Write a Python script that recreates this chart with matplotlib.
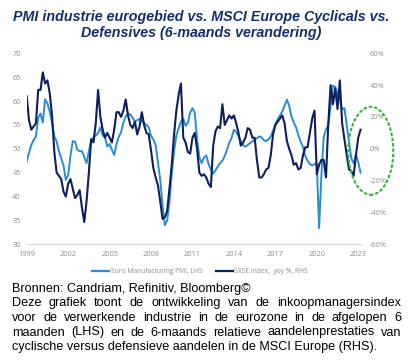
import numpy as np
import matplotlib
matplotlib.use('Agg')
import matplotlib.pyplot as plt
from matplotlib.lines import Line2D
from matplotlib.patches import Ellipse

W, H = 412, 364

title = 'PMI industrie eurogebied vs. MSCI Europe Cyclicals vs.\nDefensives (6-maands verandering)'

# Euro Manufacturing PMI (LHS), one value every 2 months from Jan 1999
pmi = [47.3, 49.2, 50.8, 51.8, 52.6, 56.5,
       57.4, 55.5, 60.4, 59.5, 57.8, 55.5,
       52.6, 51.5, 49.5, 48.0, 46.5, 43.5,
       44.5, 48.5, 51.6, 51.5, 49.8, 49.5,
       49.5, 48.3, 47.0, 49.5, 51.8, 52.4,
       52.8, 53.3, 54.5, 52.8, 52.4, 50.5,
       51.0, 49.8, 48.7, 51.0, 52.5, 53.5,
       55.5, 56.8, 57.4, 57.2, 56.5, 55.7,
       56.0, 56.2, 55.8, 55.3, 55.0, 54.5,
       52.7, 52.0, 50.8, 47.2, 43.5, 38.2,
       34.0, 35.0, 38.9, 44.7, 49.5, 52.8,
       54.3, 55.7, 56.3, 54.8, 55.5, 57.6,
       58.5, 57.5, 52.0, 48.2, 47.0, 48.2,
       48.6, 46.8, 45.6, 44.8, 45.5, 46.3,
       47.0, 47.5, 48.5, 49.8, 51.3, 52.3,
       54.0, 53.5, 52.6, 51.6, 50.8, 50.4,
       50.8, 51.2, 51.5, 52.0, 52.2, 52.6,
       52.4, 51.8, 51.6, 52.0, 52.6, 53.8,
       55.2, 56.2, 57.0, 57.8, 59.0, 60.3,
       59.0, 56.8, 55.5, 54.5, 52.8, 51.5,
       50.4, 48.5, 47.5, 46.8, 46.5, 46.8,
       47.0, 33.4, 44.5, 52.5, 54.0, 55.0,
       59.0, 63.2, 63.0, 61.5, 60.3, 58.2,
       58.5, 55.0, 51.5, 48.0, 46.9, 48.8,
       47.2, 45.0]

# SXSE index, yoy % (RHS), same dates
sxse = [33, 18, 12, 14, 16, 37,
        37, 48, 41, 43, 35, 21,
        -2, -15, -17, -19, -27, -30,
        -22, -19, -25, -31, -29, -26,
        -37, -46, -33, -15, 6, 4,
        16, 37, 20, 12, 7, 10,
        7, 4, 12, 23, 23, 20,
        24, 31, 21, 15, 13, 17,
        9, 14, 23, 15, 10, 9,
        -1, -12, -18, -23, -33, -44,
        -43, -39, -25, -10, 9, 24,
        34, 41, 7, 4, -2, -3,
        7, 10, 0, -15, -17, -16,
        -18, -22, -24, 2, 11, 14,
        13, 28, 15, 18, 21, 19,
        21, 16, 10, 2, 4, 7,
        13, 12, 7, 7, -7, -18,
        -18, -16, -13, -12, -4, 9,
        15, 17, 19, 21, 16, 5,
        0, -4, -10, -9, -13, -12,
        -4, 1, 1, 10, 19, 24,
        -16, -10, -7, -7, -18, 16,
        40, 28, 38, 25, 43, 16,
        6, -4, -13, -14, -17, -4,
        7, 12]

years = 1999 + np.arange(len(pmi)) / 6.0
year_ticks = list(range(1999, 2024, 3))
left_ticks = list(range(30, 71, 5))
right_ticks = list(range(-60, 61, 20))
legend_labels = ['Euro Manufacturing PMI, LHS', 'SXSE index,  yoy %, RHS']

light = '#2a8dd4'
navy = '#0f1f5c'
grey = '#8e8e8e'

fig = plt.figure(figsize=(W / 100, H / 100), dpi=100)
x0, x1, ytop, ybot = 26.7, 361.7, 53.3, 244.3
ax = fig.add_axes([x0 / W, 1 - ybot / H, (x1 - x0) / W, (ybot - ytop) / H])
ax.plot(years, pmi, color=light, lw=1.4)
ax.set_xlim(1999, 2023.25)
ax.set_ylim(30, 70)
ax.set_xticks(year_ticks)
ax.set_yticks(left_ticks)

ax2 = ax.twinx()
ax2.plot(years, sxse, color=navy, lw=1.5)
ax2.set_ylim(-60, 60)
ax2.set_yticks(right_ticks)
ax2.set_yticklabels(['%d%%' % v for v in right_ticks])

for a in (ax, ax2):
    for s in a.spines.values():
        s.set_visible(False)
    a.tick_params(labelsize=5.3, colors=grey, length=0)
    for lab in a.get_xticklabels() + a.get_yticklabels():
        lab.set_family('Open Sans')
ax.spines['bottom'].set_visible(True)
ax.spines['bottom'].set_color('#d9d9d9')
ax.spines['bottom'].set_linewidth(0.8)
ax.tick_params(axis='x', pad=4.5)
ax.tick_params(axis='y', pad=4.3)
ax2.tick_params(axis='y', pad=6)

handles = [Line2D([], [], color=light, lw=1.6), Line2D([], [], color=navy, lw=1.6)]
fig.legend(handles, legend_labels, loc='center', bbox_to_anchor=(200 / W, 1 - 271.7 / H),
           ncol=2, frameon=False, handlelength=2.5, handletextpad=0.2,
           columnspacing=2.0, prop={'family': 'Open Sans', 'size': 4.9}, labelcolor=grey)

# green dotted circle around the latest months
fig.add_artist(Ellipse((370.8 / W, 1 - 150.8 / H), 45 / W, 88 / H, transform=fig.transFigure,
                       fill=False, edgecolor='#3cb54a', lw=1.6, linestyle=(0, (0.8, 1.6)),
                       capstyle='round'))

fig.text(201 / W, 1 - 25 / H, title, ha='center', va='center', fontsize=10.3,
         fontweight='bold', fontstyle='italic', family='Liberation Sans', color='#13306a',
         linespacing=1.2)

body = ['Bronnen: Candriam, Refinitiv, Bloomberg©',
        'Deze grafiek toont de ontwikkeling van de inkoopmanagersindex',
        'voor de verwerkende industrie in de eurozone in de afgelopen 6',
        'maanden (LHS) en de 6-maands relatieve aandelenprestaties van',
        'cyclische versus defensieve aandelen in de MSCI Europe (RHS).']
baselines = [291.7, 306.3, 321.0, 335.5, 350.0]
justify = [False, True, True, True, False]
left_px, right_px = 12, 401

renderer = fig.canvas.get_renderer()
for line, yb, jus in zip(body, baselines, justify):
    if not jus:
        fig.text(left_px / W, 1 - yb / H, line, fontsize=9.05, family='Liberation Sans',
                 va='baseline', ha='left')
        continue
    words = line.split()
    items = [fig.text(0, 1 - yb / H, w, fontsize=9.05, family='Liberation Sans', va='baseline')
             for w in words]
    widths = [t.get_window_extent(renderer).width for t in items]
    gap = (right_px - left_px - sum(widths)) / (len(words) - 1)
    xpos = left_px
    for t, wd in zip(items, widths):
        t.set_x(xpos / W)
        xpos += wd + gap

fig.savefig('out.png', dpi=100)
